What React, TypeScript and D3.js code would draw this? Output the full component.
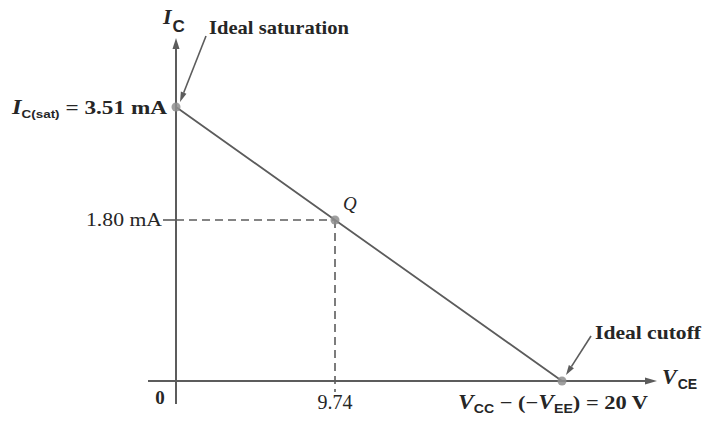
import React from "react";
import * as d3 from "d3";

// Load line of the transistor circuit: VCE in volts, IC in mA
const vceValues = [0, 9.74, 20];
const icValues = [3.51, 1.8, 0];

// Marked points along the load line
const qPoint = { vce: 9.74, ic: 1.8 };
const saturationPoint = { vce: 0, ic: 3.51 };
const cutoffPoint = { vce: 20, ic: 0 };

// Axis annotations
const xTickLabels = ["0", "9.74"];
const yTickValues = [1.8];
const yTickLabels = ["1.80 mA"];

const W = 702;
const H = 423;

const serif = "'Liberation Serif', 'DejaVu Serif', serif";
const sans = "'Liberation Sans', Arial, sans-serif";
const ink = "#262626";
const lineGray = "#5c5c5c";
const dotGray = "#8e8e8e";

// The sketch is drawn schematically, so each axis maps its marked values piecewise.
const x = d3.scaleLinear().domain([0, 9.74, 20]).range([176, 335, 562]);
const y = d3.scaleLinear().domain([0, 1.8, 3.51]).range([381, 220, 107]);

const loadLine = d3
  .line<number>()
  .x((_, i) => x(vceValues[i]))
  .y((_, i) => y(icValues[i]));

function Arrow({ x1, y1, x2, y2, head = 9, width = 7, stroke = lineGray, sw = 1.6 }) {
  const ang = Math.atan2(y2 - y1, x2 - x1);
  const bx = x2 - head * Math.cos(ang);
  const by = y2 - head * Math.sin(ang);
  const px = -Math.sin(ang) * (width / 2);
  const py = Math.cos(ang) * (width / 2);
  return (
    <g>
      <line x1={x1} y1={y1} x2={bx} y2={by} stroke={stroke} strokeWidth={sw} />
      <path
        d={`M${x2},${y2} L${bx + px},${by + py} L${bx - px},${by - py} Z`}
        fill={stroke}
      />
    </g>
  );
}

export default function App() {
  const x0 = x(0);
  const y0 = y(0);
  const qx = x(qPoint.vce);
  const qy = y(qPoint.ic);
  const sx = x(saturationPoint.vce);
  const sy = y(saturationPoint.ic);
  const cx = x(cutoffPoint.vce);
  const cy = y(cutoffPoint.ic);

  return (
    <div style={{ position: "absolute", left: 0, top: 0 }}>
      <svg width={W} height={H} viewBox={`0 0 ${W} ${H}`} style={{ display: "block", background: "#fff" }}>
        {/* axes */}
        <Arrow x1={x0} y1={404} x2={x0} y2={38} head={11} width={7} sw={2} />
        <Arrow x1={148} y1={y0} x2={657} y2={y0} head={12} width={7} sw={2} />

        {/* Q-point projections */}
        <line x1={163} y1={qy} x2={x0} y2={qy} stroke={lineGray} strokeWidth={1.6} />
        {yTickValues.map((v) => (
          <line
            key={v}
            x1={x0}
            y1={y(v)}
            x2={qx}
            y2={y(v)}
            stroke={lineGray}
            strokeWidth={1.6}
            strokeDasharray="8,5"
          />
        ))}
        <line x1={qx} y1={qy} x2={qx} y2={392} stroke={lineGray} strokeWidth={1.6} strokeDasharray="8,5" />

        {/* load line */}
        <path d={loadLine(vceValues) || ""} fill="none" stroke={lineGray} strokeWidth={1.8} />

        {/* points */}
        <circle cx={sx} cy={sy} r={4.5} fill={dotGray} opacity={0.85} />
        <circle cx={qx} cy={qy} r={4.5} fill={dotGray} opacity={0.85} />
        <circle cx={cx} cy={cy} r={4.5} fill={dotGray} opacity={0.85} />

        {/* callouts */}
        <Arrow x1={206} y1={36} x2={sx + 4} y2={sy - 5} head={10} width={6} sw={1.6} />
        <Arrow x1={591} y1={336} x2={cx + 4} y2={cy - 6} head={10} width={6} sw={1.6} />

        <g fill={ink} fontFamily={serif} fontWeight="bold" fontSize={19}>
          {/* y axis title */}
          <text x={163} y={24} fontSize={22} fontStyle="italic">
            I
            <tspan fontFamily={sans} fontStyle="normal" fontSize={17} dx={1} dy={8}>C</tspan>
          </text>

          <text x={209} y={34} textLength={140} lengthAdjust="spacingAndGlyphs">Ideal saturation</text>

          <text x={12} y={114} textLength={155} lengthAdjust="spacingAndGlyphs">
            <tspan fontStyle="italic" fontSize={20}>I</tspan>
            <tspan fontFamily={sans} fontSize={11} dy={4}>C(sat)</tspan>
            <tspan dy={-4}> = 3.51 mA</tspan>
          </text>

          <text x={162} y={226} textAnchor="end" fontWeight="normal" textLength={76} lengthAdjust="spacingAndGlyphs">{yTickLabels[0]}</text>

          <text x={qx + 8} y={210} fontStyle="italic" fontWeight="normal" fontSize={19}>Q</text>

          <text x={595} y={339} textLength={106} lengthAdjust="spacingAndGlyphs">Ideal cutoff</text>

          <text x={662} y={384} fontStyle="italic" fontSize={22}>
            V
            <tspan fontFamily={sans} fontStyle="normal" fontSize={14} dx={1} dy={5}>CE</tspan>
          </text>

          {/* x tick labels */}
          <text x={160} y={404} textAnchor="middle">{xTickLabels[0]}</text>
          <text x={qx} y={409} textAnchor="middle" fontWeight="normal" fontSize={20}>{xTickLabels[1]}</text>
          <text x={458} y={409} textLength={190} lengthAdjust="spacingAndGlyphs">
            <tspan fontStyle="italic" fontSize={20}>V</tspan>
            <tspan fontFamily={sans} fontSize={12} dy={4}>CC</tspan>
            <tspan dy={-4}> − (−</tspan>
            <tspan fontStyle="italic" fontSize={20}>V</tspan>
            <tspan fontFamily={sans} fontSize={12} dy={4}>EE</tspan>
            <tspan dy={-4}>) = 20 V</tspan>
          </text>
        </g>
      </svg>
    </div>
  );
}
